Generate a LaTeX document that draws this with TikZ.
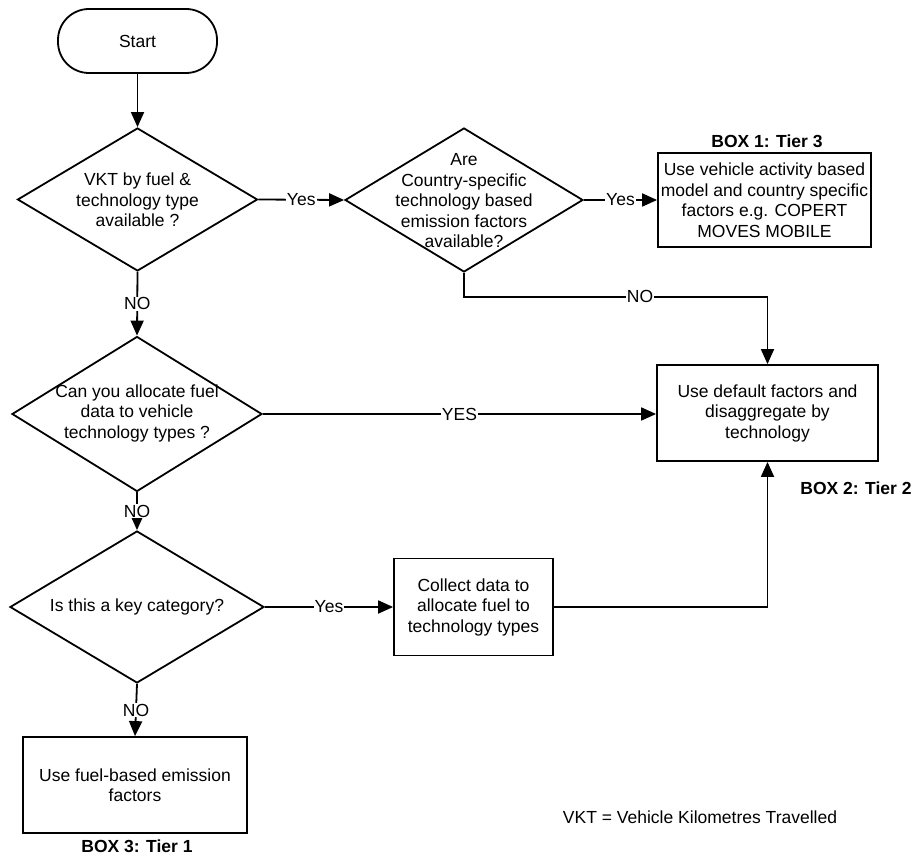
\documentclass[tikz,border=0pt]{standalone}
\usepackage{fontspec}
\setmainfont{Liberation Sans}
\usetikzlibrary{shapes.geometric,arrows.meta}
\begin{document}
\begin{tikzpicture}[x=1pt,y=-1pt,
  arr/.style={line width=1.8pt, -{Triangle[length=15pt,width=13pt]}},
  dia/.style={draw, line width=1.8pt, diamond, inner sep=0pt},
  box/.style={draw, line width=1.8pt, rectangle, inner sep=0pt, align=center},
  txt/.style={align=center, inner sep=0pt},
  lbl/.style={fill=white, inner sep=1pt},
  tier/.style={font=\fontsize{17.5}{20.5}\selectfont\bfseries, inner sep=0pt},
  every node/.style={font=\fontsize{17.5}{20.5}\selectfont}]
\path[use as bounding box] (0,0) rectangle (913,858);
% nodes
\node[draw, line width=1.8pt, rounded corners=31pt, minimum width=159pt, minimum height=64pt] (start) at (137.5,41) {Start};
\node[dia, minimum width=240pt, minimum height=143pt] (d1) at (137.5,199.5) {};
\node[txt] (d1t) at (137.5,200) {VKT by fuel \&\\technology type\\available ?};
\node[dia, minimum width=238pt, minimum height=144pt] (d2) at (464,200) {};
\node[txt] (d2t) at (464,201) {Are\\Country-specific\\technology based\\emission factors\\available?};
\node[box, minimum width=213pt, minimum height=94pt] (b1) at (764.5,200) {Use vehicle activity based\\model and country specific\\factors e.g. COPERT\\MOVES MOBILE};
\node[tier] (b1l) at (767,141) {BOX 1: Tier 3};
\node[box, minimum width=221pt, minimum height=96pt] (b2) at (767.5,413) {Use default factors and\\disaggregate by\\technology};
\node[tier] (b2l) at (856,488) {BOX 2: Tier 2};
\node[dia, minimum width=250pt, minimum height=155pt] (d3) at (137,414) {};
\node[txt] (d3t) at (137,413) {Can you allocate fuel\\data to vehicle\\technology types ?};
\node[dia, minimum width=254pt, minimum height=152pt] (d4) at (137,607) {};
\node[txt] (d4t) at (137,607) {Is this a key category?};
\node[box, minimum width=159pt, minimum height=97pt] (b3) at (473.5,607) {Collect data to\\allocate fuel to\\technology types};
\node[box, minimum width=224pt, minimum height=96pt] (b4) at (135,785) {Use fuel-based emission\\factors};
\node[tier] (b4l) at (137,846.5) {BOX 3: Tier 1};
\node[inner sep=0pt] (note) at (700,817) {VKT = Vehicle Kilometres Travelled};
% connectors
\draw[arr] (start.south) -- (d1.north);
\draw[arr] (d1.east) -- node[lbl]{Yes} (d2.west);
\draw[arr] (d2.east) -- node[lbl]{Yes} (b1.west);
\draw[arr] (d2.south) -- ++(0,24) -| node[lbl, pos=0.29]{NO} (b2.north);
\draw[arr] (d1.south) -- node[lbl]{NO} (d3.north);
\draw[arr] (d3.east) -- node[lbl]{YES} (b2.west |- d3.east);
\draw[arr] (d3.south) -- node[lbl]{NO} (d4.north);
\draw[arr] (d4.east) -- node[lbl]{Yes} (b3.west);
\draw[arr] (b3.east) -| (b2.south);
\draw[arr] (d4.south) -- node[lbl]{NO} (b4.north);
\end{tikzpicture}
\end{document}
